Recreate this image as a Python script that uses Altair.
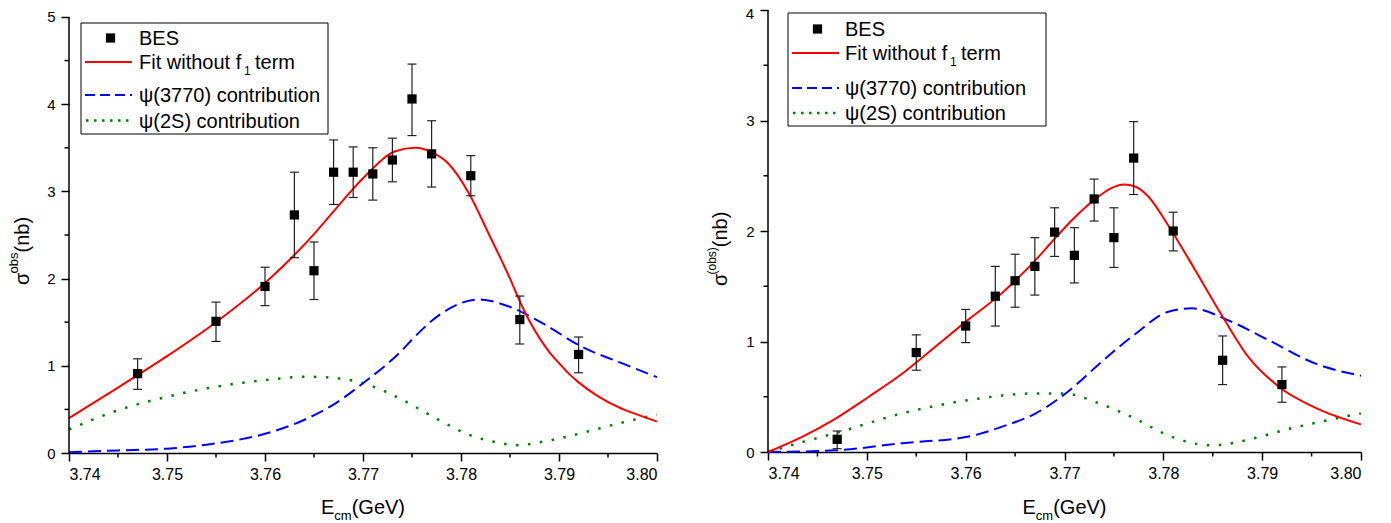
import altair as alt
import pandas as pd

FONT = "Liberation Sans"

# ---------------- data ----------------
E_pts = [3.747, 3.755, 3.760, 3.763, 3.765, 3.767, 3.769, 3.771, 3.773, 3.775, 3.777, 3.781, 3.786, 3.792]

L_val = [0.91, 1.51, 1.91, 2.73, 2.09, 3.22, 3.22, 3.20, 3.36, 4.06, 3.43, 3.18, 1.53, 1.13]
L_lo = [0.73, 1.28, 1.69, 2.24, 1.76, 2.85, 2.93, 2.90, 3.11, 3.64, 3.05, 2.95, 1.25, 0.92]
L_hi = [1.08, 1.73, 2.13, 3.22, 2.42, 3.59, 3.51, 3.50, 3.61, 4.46, 3.81, 3.41, 1.80, 1.33]

R_val = [0.115, 0.90, 1.14, 1.41, 1.55, 1.68, 1.99, 1.78, 2.29, 1.94, 2.66, 2.00, 0.83, 0.61]
R_lo = [0.03, 0.74, 0.99, 1.14, 1.31, 1.42, 1.77, 1.53, 2.09, 1.67, 2.33, 1.82, 0.61, 0.45]
R_hi = [0.19, 1.06, 1.29, 1.68, 1.79, 1.94, 2.21, 2.03, 2.47, 2.21, 2.99, 2.17, 1.05, 0.77]

# left panel curves
L_fit_E = [3.740, 3.745, 3.750, 3.755, 3.760, 3.763, 3.765, 3.767, 3.770, 3.7733, 3.7753, 3.777,
           3.7787, 3.7808, 3.7828, 3.785, 3.786, 3.787, 3.788, 3.789, 3.790, 3.791, 3.792,
           3.794, 3.796, 3.798, 3.800]
L_fit_v = [0.40, 0.75, 1.11, 1.50, 1.95, 2.27, 2.51, 2.77, 3.15, 3.46, 3.50, 3.45,
           3.32, 2.98, 2.52, 2.00, 1.74, 1.51, 1.32, 1.16, 1.03, 0.91, 0.81,
           0.65, 0.53, 0.44, 0.36]
L_psi3770_E = [3.740, 3.745, 3.750, 3.755, 3.760, 3.7638, 3.7672, 3.770, 3.774, 3.775, 3.778,
               3.7818, 3.7849, 3.7883, 3.7923, 3.7964, 3.800]
L_psi3770_v = [0.01, 0.03, 0.05, 0.11, 0.22, 0.37, 0.57, 0.80, 1.18, 1.30, 1.60,
               1.76, 1.68, 1.49, 1.22, 1.03, 0.87]
L_psi2S_E = [3.740, 3.745, 3.7502, 3.755, 3.7604, 3.764, 3.7672, 3.7706, 3.774, 3.7774, 3.7808,
             3.7842, 3.7855, 3.7893, 3.7927, 3.7961, 3.800]
L_psi2S_v = [0.27, 0.49, 0.65, 0.76, 0.84, 0.875, 0.86, 0.78, 0.61, 0.40, 0.21,
             0.11, 0.09, 0.15, 0.24, 0.34, 0.44]

# right panel curves
R_fit_E = [3.740, 3.7435, 3.7468, 3.7502, 3.7536, 3.7569, 3.7603, 3.7637, 3.765, 3.767, 3.769,
           3.771, 3.773, 3.7748, 3.776, 3.7772, 3.7785, 3.7805, 3.7832, 3.7859, 3.7886, 3.792,
           3.7954, 3.800]
R_fit_v = [0.00, 0.14, 0.30, 0.50, 0.71, 0.95, 1.20, 1.44, 1.55, 1.73, 1.93,
           2.12, 2.28, 2.39, 2.42, 2.40, 2.31, 2.05, 1.65, 1.24, 0.86, 0.57,
           0.40, 0.25]
R_psi3770_E = [3.740, 3.7468, 3.7536, 3.7603, 3.7637, 3.7671, 3.7704, 3.7738, 3.7772, 3.7805,
               3.7829, 3.7866, 3.7907, 3.7954, 3.800]
R_psi3770_v = [0.00, 0.015, 0.08, 0.14, 0.23, 0.35, 0.55, 0.82, 1.07, 1.27,
               1.30, 1.19, 1.01, 0.80, 0.69]
R_psi2S_E = [3.740, 3.7435, 3.7468, 3.7536, 3.7603, 3.7671, 3.7698, 3.7738, 3.7772, 3.7805,
             3.7849, 3.789, 3.7923, 3.7957, 3.800]
R_psi2S_v = [0.00, 0.09, 0.17, 0.35, 0.47, 0.53, 0.53, 0.43, 0.30, 0.15,
             0.06, 0.12, 0.20, 0.27, 0.35]

x_ticks = [3.74, 3.75, 3.76, 3.77, 3.78, 3.79, 3.80]
x_minor = [3.745, 3.755, 3.765, 3.775, 3.785, 3.795]
L_yticks = [0, 1, 2, 3, 4, 5]
L_yminor = [0.5, 1.5, 2.5, 3.5, 4.5]
R_yticks = [0, 1, 2, 3, 4]
R_yminor = [0.5, 1.5, 2.5, 3.5]

legend_labels = ["BES", "Fit without f", "1", "term", "ψ(3770) contribution", "ψ(2S) contribution"]

RED = "#ff0000"
BLUE = "#0000ff"
GREEN = "#008000"
one = pd.DataFrame({"a": [0]})


def txt(s, x, y, size, align="left", baseline="alphabetic", angle=0):
    kw = dict(text=s, x=x, y=y, fontSize=size, font=FONT, color="black",
              align=align, baseline=baseline)
    if angle:
        kw["angle"] = angle
    return alt.Chart(one).mark_text(**kw)


def panel(W, H, ytop, yticks, yminor, vals, los, his, curves, ytitle_sup, ytitle_pos, leg,
          top_label_manual=False):
    xs = alt.Scale(domain=[3.74, 3.80], nice=False, zero=False)
    ys = alt.Scale(domain=[0, ytop], nice=False, zero=False)
    xax = alt.Axis(values=x_ticks, format=".2f", title=None, grid=False, tickSize=8,
                   labelFontSize=16, labelPadding=5, domainWidth=1.5, tickWidth=1.5,
                   domainColor="black", tickColor="black", labelColor="black", labelFont=FONT)
    yargs = dict(values=yticks, format="d", title=None, grid=False, tickSize=8,
                 labelFontSize=15, labelPadding=6, domain=False, tickWidth=1.5,
                 tickColor="black", labelColor="black", labelFont=FONT)
    if top_label_manual:
        yargs["labelExpr"] = f"datum.value == {yticks[-1]} ? '' : datum.label"
    yax = alt.Axis(**yargs)
    X = alt.X("E:Q", scale=xs, axis=xax)

    def Y(f):
        return alt.Y(f"{f}:Q", scale=ys, axis=yax)

    layers = []
    # curves
    (fe, fv), (be, bv), (ge, gv) = curves
    gdf = pd.DataFrame({"E": ge, "v": gv})
    bdf = pd.DataFrame({"E": be, "v": bv})
    fdf = pd.DataFrame({"E": fe, "v": fv})
    layers.append(alt.Chart(gdf).mark_line(color=GREEN, strokeWidth=2.5, strokeDash=[2.5, 9.5],
                                           interpolate="monotone").encode(x=X, y=Y("v")))
    layers.append(alt.Chart(bdf).mark_line(color=BLUE, strokeWidth=2, strokeDash=[13, 6],
                                           interpolate="monotone").encode(x=X, y=Y("v")))
    layers.append(alt.Chart(fdf).mark_line(color=RED, strokeWidth=2,
                                           interpolate="monotone").encode(x=X, y=Y("v")))
    # error bars
    pdf = pd.DataFrame({"E": E_pts, "v": vals, "lo": los, "hi": his})
    layers.append(alt.Chart(pdf).mark_rule(color="#222222", strokeWidth=1.2).encode(
        x=X, y=Y("lo"), y2="hi:Q"))
    for f in ["lo", "hi"]:
        layers.append(alt.Chart(pdf).mark_rule(color="#222222", strokeWidth=1.2,
                                               xOffset=-4.5, x2Offset=4.5).encode(
            x=X, x2=alt.X2("E:Q"), y=Y(f)))
    layers.append(alt.Chart(pdf).mark_square(color="black", size=85, opacity=1).encode(
        x=X, y=Y("v")))
    # y axis line
    adf = pd.DataFrame({"E": [3.74], "lo": [0], "hi": [yticks[-1]]})
    layers.append(alt.Chart(adf).mark_rule(color="black", strokeWidth=1.5).encode(
        x=X, y=Y("lo"), y2="hi:Q"))
    # minor ticks
    mx = pd.DataFrame({"E": x_minor})
    layers.append(alt.Chart(mx).mark_rule(color="black", strokeWidth=1.5).encode(
        x=X, y=alt.value(H), y2=alt.value(H + 4.5)))
    my = pd.DataFrame({"E": [3.74] * len(yminor), "v": yminor})
    layers.append(alt.Chart(my).mark_rule(color="black", strokeWidth=1.5).encode(
        y=Y("v"), x=alt.value(-4.5), x2=alt.value(0)))
    if top_label_manual:
        # top tick label kept just inside the visible page area
        layers.append(txt(str(yticks[-1]), -14, 9, 15, align="right"))

    # x title: E_cm(GeV)
    start = W / 2 - 42
    layers.append(txt("E", start, 504, 20))
    layers.append(txt("cm", start + 13.34, 510, 13))
    layers.append(txt("(GeV)", start + 30.67, 504, 20))

    # y title (rotated)
    bx, by, supx, supsize, supw = ytitle_pos
    layers.append(txt("σ", bx, by, 20, angle=270))
    layers.append(txt(ytitle_sup, supx, by - 11.5, supsize, angle=270))
    layers.append(txt("(nb)", bx, by - 11.5 - supw, 20, angle=270))

    # legend
    bx0, by0, bx1, by1, lx0, lx1, tx, rows = leg
    layers.append(alt.Chart(one).mark_rect(fill="white", stroke="black", strokeWidth=1).encode(
        x=alt.value(bx0), x2=alt.value(bx1), y=alt.value(by0), y2=alt.value(by1)))
    r0, r1, r2, r3 = rows  # line centre of each row
    layers.append(alt.Chart(one).mark_square(color="black", size=85, opacity=1).encode(
        x=alt.value((lx0 + lx1) / 2 + 2), y=alt.value(r0)))
    layers.append(alt.Chart(one).mark_rule(color=RED, strokeWidth=2).encode(
        x=alt.value(lx0), x2=alt.value(lx1), y=alt.value(r1)))
    layers.append(alt.Chart(one).mark_rule(color=BLUE, strokeWidth=2, strokeDash=[10, 5]).encode(
        x=alt.value(lx0), x2=alt.value(lx1), y=alt.value(r2)))
    layers.append(alt.Chart(one).mark_rule(color=GREEN, strokeWidth=2.5, strokeDash=[2.5, 5.5]).encode(
        x=alt.value(lx0 + 1), x2=alt.value(lx1), y=alt.value(r3)))
    layers.append(txt(legend_labels[0], tx, r0 + 7, 20))
    layers.append(txt(legend_labels[1], tx, r1 + 7, 20))
    layers.append(txt(legend_labels[2], tx + 105, r1 + 13, 12))
    layers.append(txt(legend_labels[3], tx + 116, r1 + 7, 20))
    layers.append(txt(legend_labels[4], tx, r2 + 7, 20))
    layers.append(txt(legend_labels[5], tx, r3 + 7, 20))

    return alt.layer(*layers).properties(width=W, height=H)


W1, H1 = 588, 443
W2, H2 = 593, 442

left = panel(W1, H1, 5.08, L_yticks, L_yminor, L_val, L_lo, L_hi,
             [(L_fit_E, L_fit_v), (L_psi3770_E, L_psi3770_v), (L_psi2S_E, L_psi2S_v)],
             "obs", (-40, 275, -51, 13, 21),
             (12, 13, 259, 124, 16, 63, 70, [28, 52, 85, 110.5]))
right = panel(W2, H2, 4.0, R_yticks, R_yminor, R_val, R_lo, R_hi,
              [(R_fit_E, R_fit_v), (R_psi3770_E, R_psi3770_v), (R_psi2S_E, R_psi2S_v)],
              "(obs)", (-41, 276, -52, 12, 27.3),
              (20, 3, 278, 116, 24, 71, 77, [19, 43, 78, 103]),
              top_label_manual=True)

chart = alt.hconcat(left, right, spacing=111, bounds="flush").properties(
    padding={"left": 0, "top": -1, "right": 0, "bottom": 0},
    background="white",
).configure_view(strokeWidth=0)

chart.save("out.html", embed_options={"renderer": "svg", "actions": False})
